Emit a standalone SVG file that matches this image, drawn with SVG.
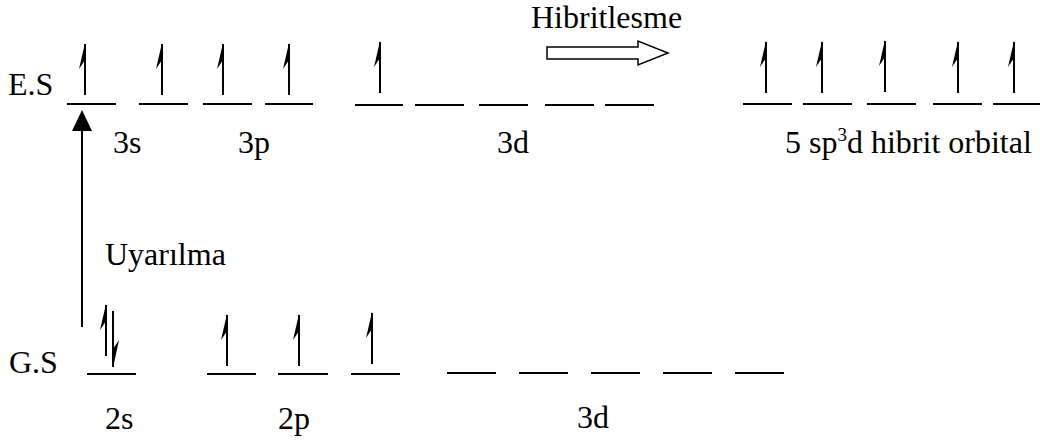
<svg xmlns="http://www.w3.org/2000/svg" xmlns:xlink="http://www.w3.org/1999/xlink" width="1040" height="441" viewBox="0 0 1040 441">
<style>
.lvl{stroke:#000;stroke-width:2;fill:none}
.sh{stroke:#000;stroke-width:2;fill:none}
</style>
<defs>
<g id="up"><line class="sh" x1="0" y1="1" x2="0" y2="52"/><path d="M0,0 L-6,26 L0,17 Z" fill="#000"/></g>
<g id="dn"><line class="sh" x1="0" y1="-1" x2="0" y2="-57"/><path d="M0,0 L6,-28 L0,-19 Z" fill="#000"/></g>
</defs>
<rect width="1040" height="441" fill="#fff"/>
<g id="labels" font-family="Liberation Serif, Times New Roman, Times, serif" font-size="32" fill="#000">
<text x="8" y="95">E.S</text>
<text x="9" y="373">G.S</text>
<text x="531" y="28">Hibritlesme</text>
<text x="113" y="153">3s</text>
<text x="238" y="153">3p</text>
<text x="497" y="153">3d</text>
<text x="785" y="153">5 sp<tspan dy="-12" font-size="19">3</tspan><tspan dy="12">d hibrit orbital</tspan></text>
<text x="105" y="265">Uyarılma</text>
<text x="105" y="429">2s</text>
<text x="278" y="429">2p</text>
<text x="577" y="428">3d</text>
</g>
<g id="es-3s"><line class="lvl" x1="67" y1="104" x2="116" y2="104"/><use xlink:href="#up" x="85" y="43"/></g>
<g id="es-3p1"><line class="lvl" x1="139" y1="104" x2="188" y2="104"/><use xlink:href="#up" x="162" y="43"/></g>
<g id="es-3p2"><line class="lvl" x1="203" y1="104" x2="252" y2="104"/><use xlink:href="#up" x="223" y="43"/></g>
<g id="es-3p3"><line class="lvl" x1="265" y1="104" x2="313" y2="104"/><use xlink:href="#up" x="289" y="43"/></g>
<g id="es-3d1"><line class="lvl" x1="355" y1="105" x2="403" y2="105"/><use xlink:href="#up" x="380" y="41"/></g>
<g id="es-3d2"><line class="lvl" x1="415" y1="105" x2="464" y2="105"/></g>
<g id="es-3d3"><line class="lvl" x1="479" y1="105" x2="528" y2="105"/></g>
<g id="es-3d4"><line class="lvl" x1="545" y1="105" x2="594" y2="105"/></g>
<g id="es-3d5"><line class="lvl" x1="605" y1="105" x2="654" y2="105"/></g>
<g id="hy1"><line class="lvl" x1="743" y1="104" x2="792" y2="104"/><use xlink:href="#up" x="766" y="41"/></g>
<g id="hy2"><line class="lvl" x1="803" y1="104" x2="852" y2="104"/><use xlink:href="#up" x="822" y="41"/></g>
<g id="hy3"><line class="lvl" x1="867" y1="104" x2="916" y2="104"/><use xlink:href="#up" x="885" y="40"/></g>
<g id="hy4"><line class="lvl" x1="933" y1="104" x2="982" y2="104"/><use xlink:href="#up" x="958" y="41"/></g>
<g id="hy5"><line class="lvl" x1="993" y1="104" x2="1040" y2="104"/><use xlink:href="#up" x="1014" y="41"/></g>
<g id="gs-2s"><line class="lvl" x1="87" y1="374" x2="136" y2="374"/><use xlink:href="#up" x="106" y="304"/><use xlink:href="#dn" x="113" y="368"/></g>
<g id="gs-2p1"><line class="lvl" x1="207" y1="374" x2="256" y2="374"/><use xlink:href="#up" x="227" y="314"/></g>
<g id="gs-2p2"><line class="lvl" x1="278" y1="374" x2="328" y2="374"/><use xlink:href="#up" x="299" y="314"/></g>
<g id="gs-2p3"><line class="lvl" x1="351" y1="374" x2="400" y2="374"/><use xlink:href="#up" x="372" y="312"/></g>
<g id="gs-3d1"><line class="lvl" x1="447" y1="373" x2="496" y2="373"/></g>
<g id="gs-3d2"><line class="lvl" x1="519" y1="373" x2="568" y2="373"/></g>
<g id="gs-3d3"><line class="lvl" x1="591" y1="373" x2="640" y2="373"/></g>
<g id="gs-3d4"><line class="lvl" x1="663" y1="373" x2="712" y2="373"/></g>
<g id="gs-3d5"><line class="lvl" x1="735" y1="373" x2="784" y2="373"/></g>
<g id="connectors">
<line x1="82" y1="327" x2="82" y2="128" stroke="#000" stroke-width="2"/>
<path d="M82,110 L72,131 L92,131 Z" fill="#000"/>
<path d="M547,47 L638,47 L638,41 L668,53 L638,65 L638,59 L547,59 Z" fill="#fff" stroke="#000" stroke-width="1.5"/>
</g>
</svg>
